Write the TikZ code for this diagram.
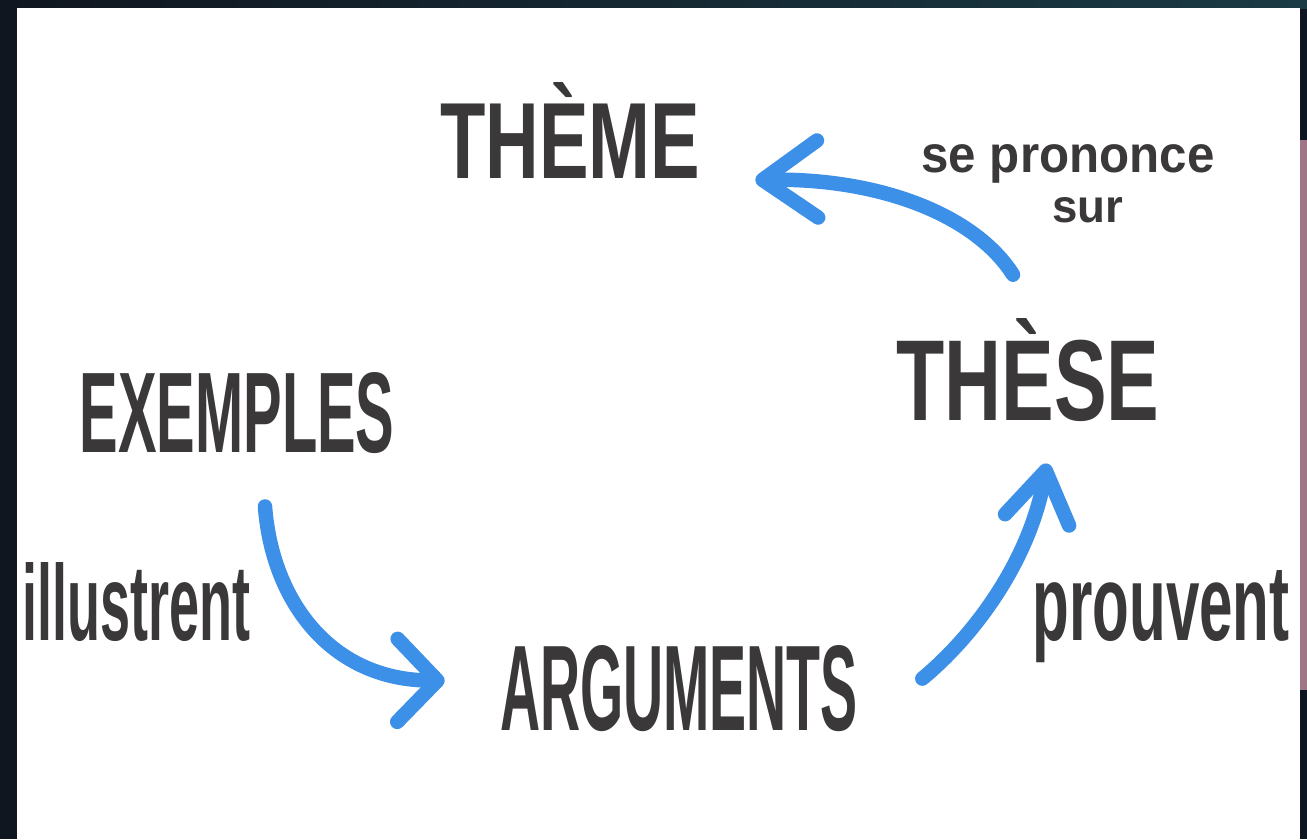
\documentclass[tikz,border=0pt]{standalone}
\usepackage{fontspec}
\usepackage{graphicx}
\usetikzlibrary{arrows.meta}

\newfontfamily\handfont{Liberation Sans}

\definecolor{handink}{RGB}{58,56,56}
\definecolor{arrowblue}{RGB}{60,144,232}
\definecolor{bgdark}{RGB}{16,22,32}
\definecolor{bgteal}{RGB}{26,58,68}
\definecolor{edgepink}{RGB}{158,118,134}

\tikzset{
    hand/.style={text=handink, inner sep=0pt, anchor=base, font=\handfont\bfseries},
    flow/.style 2 args={draw=arrowblue, line width=0.29cm, line cap=round,
        -{Straight Barb[length=#1, width=#2, round]}},
}

\begin{document}
\begin{tikzpicture}[x=0.02cm, y=-0.02cm]
    % 绘制背景
    \useasboundingbox (0,0) rectangle (1307,839);
    \fill[bgdark] (0,0) rectangle (1307,839);
    \shade[left color=bgdark, right color=bgteal] (0,0) rectangle (1307,8);
    \fill[edgepink] (1300,140) rectangle (1307,690);
    \fill[white] (17,8) rectangle (1300,839);

    % 绘制四个概念
    \node[hand] (theme) at (570,178) {\resizebox{5.2cm}{1.92cm}{THÈME}};
    \node[hand] (these) at (1028,420) {\resizebox{5.26cm}{2.04cm}{THÈSE}};
    \node[hand] (exemples) at (237,452) {\resizebox{6.3cm}{1.6cm}{EXEMPLES}};
    \node[hand] (arguments) at (679,730) {\resizebox{7.16cm}{1.7cm}{ARGUMENTS}};

    % 绘制关系文字
    \node[hand] (illustrent) at (136,640) {\resizebox{4.56cm}{1.56cm}{illustrent}};
    \node[hand] (prouvent) at (1161,640) {\resizebox{5.14cm}{1.4cm}{prouvent}};
    \node[hand] (prononce) at (1068,172) {\resizebox{5.86cm}{0.56cm}{se prononce}};
    \node[hand] (sur) at (1088,222) {\resizebox{1.42cm}{0.5cm}{sur}};

    % 绘制箭头
    \draw[flow={0.8cm}{1.66cm}] ([xshift=0.56cm,yshift=-1.06cm]exemples.south)
        .. controls (272,600) and (330,680) .. ([xshift=-1.1cm,yshift=0.15cm]arguments.west);
    \draw[flow={1.0cm}{1.3cm}] ([xshift=1.28cm,yshift=0.19cm]arguments.east)
        .. controls (975,635) and (1030,560) .. ([xshift=0.38cm,yshift=-0.84cm]these.south);
    \draw[flow={1.1cm}{1.54cm}] ([xshift=-0.3cm,yshift=0.86cm]these.north)
        .. controls (975,215) and (880,178) .. ([xshift=1.1cm,yshift=-1.0cm]theme.east);

\end{tikzpicture}
\end{document}
